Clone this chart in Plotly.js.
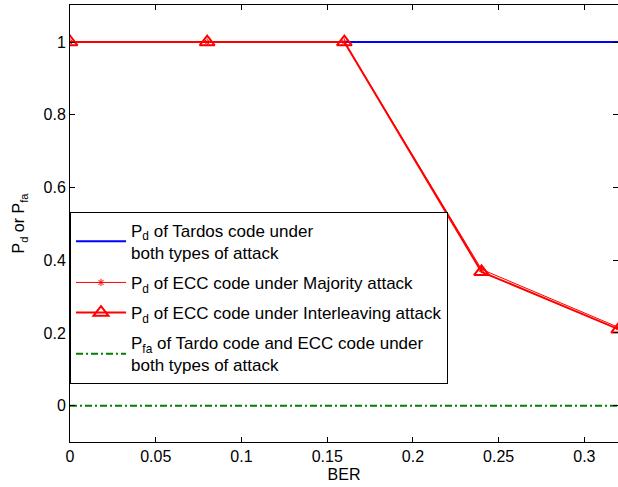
<!DOCTYPE html>
<html><head><meta charset="utf-8">
<script src="https://cdn.plot.ly/plotly-3.0.1.min.js"></script>
<style>html,body{margin:0;padding:0;background:#fff}</style>
</head><body>
<div id="chart" style="width:618px;height:487px"></div>
<script>
const ber = [0, 0.08, 0.16, 0.24, 0.32];
const pdTardos = [1, 1, 1, 1, 1];
const pdEccMajority = [1, 1, 1, 0.375, 0.215];
const pdEccInterleaving = [1, 1, 1, 0.368, 0.21];
const pfa = [0, 0, 0, 0, 0];
const xTicks = [0, 0.05, 0.1, 0.15, 0.2, 0.25, 0.3];
const yTicks = [0, 0.2, 0.4, 0.6, 0.8, 1];

const traces = [
  {x: ber, y: pdTardos, mode: 'lines', line: {color: '#0000ff', width: 2}, legendgroup: 'a',
   name: 'P<sub>d</sub> of Tardos code under<br>both types of attack'},
  {x: ber, y: pdEccMajority, mode: 'lines+markers', line: {color: '#ff0000', width: 1}, legendgroup: 'b',
   marker: {symbol: 'asterisk-open', size: 6, line: {color: '#ff0000', width: 1}},
   name: 'P<sub>d</sub> of ECC code under Majority attack'},
  {x: ber, y: pdEccInterleaving, mode: 'lines+markers', line: {color: '#ff0000', width: 2}, legendgroup: 'c',
   marker: {symbol: 'triangle-up-open', size: 13, color: '#ff0000', line: {color: '#ff0000', width: 2}},
   name: 'P<sub>d</sub> of ECC code under Interleaving attack'},
  {x: ber, y: pfa, mode: 'lines', line: {color: '#008000', width: 2, dash: '7px,3px,2px,3px'}, legendgroup: 'd',
   name: 'P<sub>fa</sub> of Tardo code and ECC code under<br>both types of attack'}
];

const layout = {
  width: 618, height: 487,
  margin: {l: 70, r: 0, t: 5, b: 45},
  paper_bgcolor: '#fff', plot_bgcolor: '#fff',
  font: {family: 'Liberation Sans, Arial, sans-serif', size: 16, color: '#000'},
  showlegend: true,
  legend: {x: 0.0, y: 0.527, xanchor: 'left', yanchor: 'top', bgcolor: '#fff',
    bordercolor: '#000', borderwidth: 1, itemwidth: 50, font: {size: 17},
    tracegroupgap: 5},
  xaxis: {range: [0, 0.3196], tickvals: xTicks, ticktext: xTicks.map(String),
    ticks: 'inside', ticklen: 5, tickcolor: '#000', showline: true, linecolor: '#000', linewidth: 1,
    mirror: 'ticks', showgrid: false, zeroline: false,
    title: {text: 'BER', standoff: 4, font: {size: 16}}},
  yaxis: {range: [-0.1, 1.102], tickvals: yTicks, ticktext: yTicks.map(String),
    ticks: 'inside', ticklen: 5, tickcolor: '#000', showline: true, linecolor: '#000', linewidth: 1,
    mirror: 'ticks', showgrid: false, zeroline: false,
    title: {text: 'P<sub>d</sub> or P<sub>fa</sub>', standoff: 14, font: {size: 16}}}
};
Plotly.newPlot('chart', traces, layout, {displayModeBar: false, staticPlot: true});
</script>
</body></html>
